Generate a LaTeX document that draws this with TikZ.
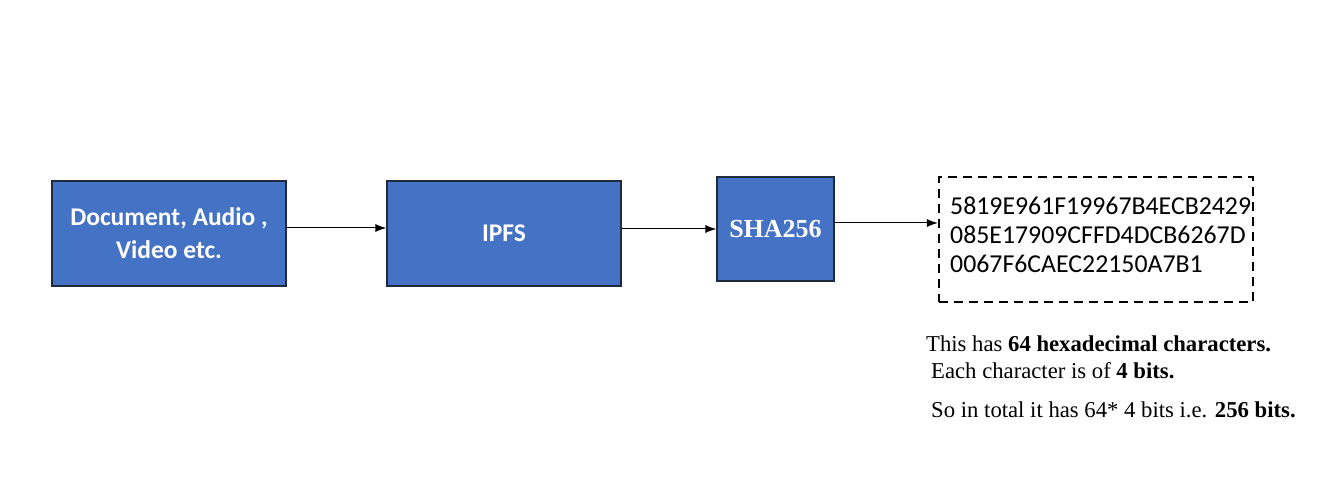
\documentclass[tikz,border=0pt]{standalone}
\usepackage{fontspec}
\usetikzlibrary{arrows.meta}
\setmainfont{Liberation Serif}
\newfontfamily\calib{Carlito}
\definecolor{boxblue}{HTML}{4472C4}
\definecolor{boxedge}{HTML}{1F2A3A}
\begin{document}
\begin{tikzpicture}[x=1pt,y=-1pt,
  blk/.style={draw=boxedge,line width=1.2pt,fill=boxblue,text=white,align=center,inner sep=0pt},
  conn/.style={-{Latex[length=11pt,width=8pt]},line width=1pt},
  note/.style={anchor=west,inner sep=0pt,font=\fontsize{22.7}{26}\selectfont}]
\useasboundingbox (0,0) rectangle (1323,497);
\node[blk,minimum width=234,minimum height=105,font=\calib\bfseries\fontsize{25.5}{33}\selectfont] (doc) at (169,233.5) {Document, Audio ,\\Video etc.};
\node[blk,minimum width=234,minimum height=105,font=\calib\bfseries\fontsize{25.5}{30}\selectfont] (ipfs) at (504,233.5) {IPFS};
\node[blk,minimum width=117,minimum height=104,font=\bfseries\fontsize{26}{30}\selectfont] (sha) at (775.5,229) {SHA256};
\node[draw,dash pattern=on 9pt off 6pt,line width=2.2pt,minimum width=314,minimum height=125,inner sep=0pt] (hash) at (1096,239.5) {};
\node[anchor=north west,align=left,inner sep=0pt,font=\calib\fontsize{25.8}{29}\selectfont] (hex) at (950,197) {5819E961F19967B4ECB2429\\085E17909CFFD4DCB6267D\\0067F6CAEC22150A7B1};
\draw[conn] (doc.east |- 0,228) -- (ipfs.west |- 0,228);
\draw[conn] (ipfs.east |- 0,229) -- (sha.west |- 0,229);
\draw[conn] (sha.east |- 0,223) -- (hash.west |- 0,223);
\node[note] (l1) at (926,344) {This has \textbf{64 hexadecimal characters.}};
\node[note] (l2) at (931,371) {Each character is of \textbf{4 bits.}};
\node[note] (l3) at (931,410) {So in total it has 64* 4 bits i.e. \textbf{256 bits.}};
\end{tikzpicture}
\end{document}
